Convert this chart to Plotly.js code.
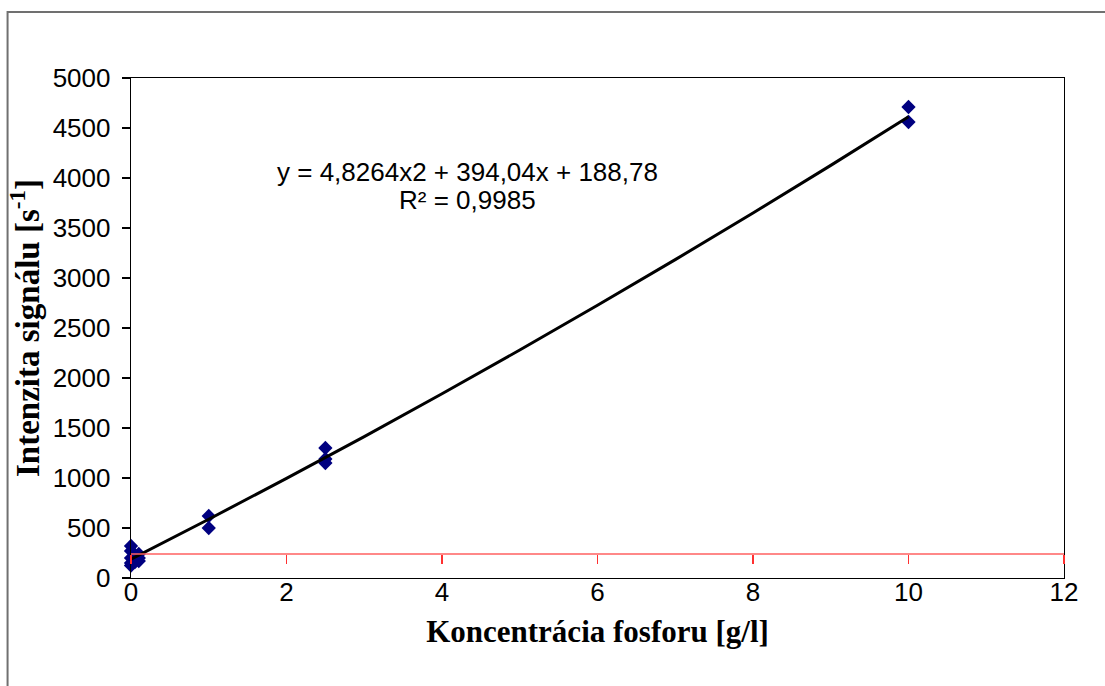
<!DOCTYPE html>
<html>
<head>
<meta charset="utf-8">
<script src="https://cdn.plot.ly/plotly-3.0.1.min.js"></script>
<style>html,body{margin:0;padding:0;background:#fff;}#chart{width:1105px;height:686px;}</style>
</head>
<body>
<div id="chart"></div>
<script>
// Measured data (concentration g/l, signal intensity s^-1)
const concentration = [0, 0, 0, 0, 0, 0.05, 0.05, 0.1, 0.1, 0.1, 1, 1, 2.5, 2.5, 2.5, 10, 10];
const intensity     = [320, 270, 200, 150, 125, 230, 160, 240, 200, 170, 620, 500, 1300, 1190, 1150, 4710, 4560];

// Trendline coefficients shown on the chart: y = a*x^2 + b*x + c
const trendCoefficients = [4.8264, 394.04, 188.78];
const trendX = [0, 1, 2, 3, 4, 5, 6, 7, 8, 9, 10];
const trendY = trendX.map(x => trendCoefficients[0]*x*x + trendCoefficients[1]*x + trendCoefficients[2]);

// Red reference axis level
const referenceLevel = [240];

const xTicks = [0, 2, 4, 6, 8, 10, 12];
const yTicks = [0, 500, 1000, 1500, 2000, 2500, 3000, 3500, 4000, 4500, 5000];

const equationText = "y = 4,8264x2 + 394,04x + 188,78";
const r2Text = "R² = 0,9985";

const yMax = 5000;

const traces = [
  {
    x: [0, 12], y: [referenceLevel[0], referenceLevel[0]], xaxis: 'x2', type: 'scatter', mode: 'lines',
    line: {color: '#ff6060', width: 1.3}, showlegend: false, hoverinfo: 'skip'
  },
  {
    x: concentration, y: intensity, type: 'scatter', mode: 'markers', cliponaxis: false,
    marker: {symbol: 'diamond', size: 11, color: '#000080'},
    hoverinfo: 'x+y', showlegend: false
  },
  {
    x: trendX, y: trendY, type: 'scatter', mode: 'lines',
    line: {color: '#000000', width: 3}, showlegend: false, hoverinfo: 'skip'
  }
];

const tickFont = {family: '"Liberation Sans", Arial, sans-serif', size: 26, color: '#000'};
const titleFontX = {family: '"Liberation Serif", "Times New Roman", serif', size: 31, color: '#000', weight: 'bold'};
const titleFontY = {family: '"Liberation Serif", "Times New Roman", serif', size: 33, color: '#000', weight: 'bold'};

const layout = {
  width: 1105, height: 686,
  margin: {l: 131, r: 41, t: 78, b: 108},
  paper_bgcolor: '#ffffff', plot_bgcolor: '#ffffff',
  showlegend: false,
  xaxis: {
    range: [0, 12], tickvals: xTicks, ticktext: xTicks.map(String),
    showgrid: false, zeroline: false, showline: true, linecolor: '#000', linewidth: 1.3,
    mirror: true, ticks: '', tickfont: tickFont, ticklabelstandoff: -10,
    title: {text: '<b>Koncentrácia fosforu [g/l]</b>', font: titleFontX, standoff: 14}
  },
  xaxis2: {
    range: [0, 12], overlaying: 'x', anchor: 'free', position: referenceLevel[0] / yMax,
    tickvals: xTicks, showticklabels: false, ticks: 'outside', ticklen: 9, tickcolor: '#ff3030', tickwidth: 1.3,
    showgrid: false, zeroline: false, showline: false
  },
  yaxis: {
    range: [0, yMax], tickvals: yTicks, ticktext: yTicks.map(String),
    showgrid: false, zeroline: false, showline: true, linecolor: '#000', linewidth: 1.3,
    mirror: true, ticks: 'outside', ticklen: 8, tickcolor: '#000', tickwidth: 1.3,
    tickfont: tickFont, ticklabelstandoff: 6,
    title: {text: '<b>Intenzita signálu [s<sup>-1</sup>]</b>', font: titleFontY, standoff: 3}
  },
  annotations: [
    {xref: 'paper', yref: 'paper', x: 0.3607, y: 0.812, text: equationText, showarrow: false,
     xanchor: 'center', yanchor: 'middle', font: {family: '"Liberation Sans", Arial, sans-serif', size: 26, color: '#000'}},
    {xref: 'paper', yref: 'paper', x: 0.3607, y: 0.756, text: r2Text, showarrow: false,
     xanchor: 'center', yanchor: 'middle', font: {family: '"Liberation Sans", Arial, sans-serif', size: 26, color: '#000'}}
  ],
  shapes: [
    {type: 'rect', xref: 'paper', yref: 'paper', x0: -0.1323, x1: 1.2, y0: -0.3, y1: 1.132,
     line: {color: '#707070', width: 2}, fillcolor: 'rgba(0,0,0,0)', layer: 'below'}
  ]
};

Plotly.newPlot('chart', traces, layout, {staticPlot: true, displayModeBar: false});
</script>
</body>
</html>
